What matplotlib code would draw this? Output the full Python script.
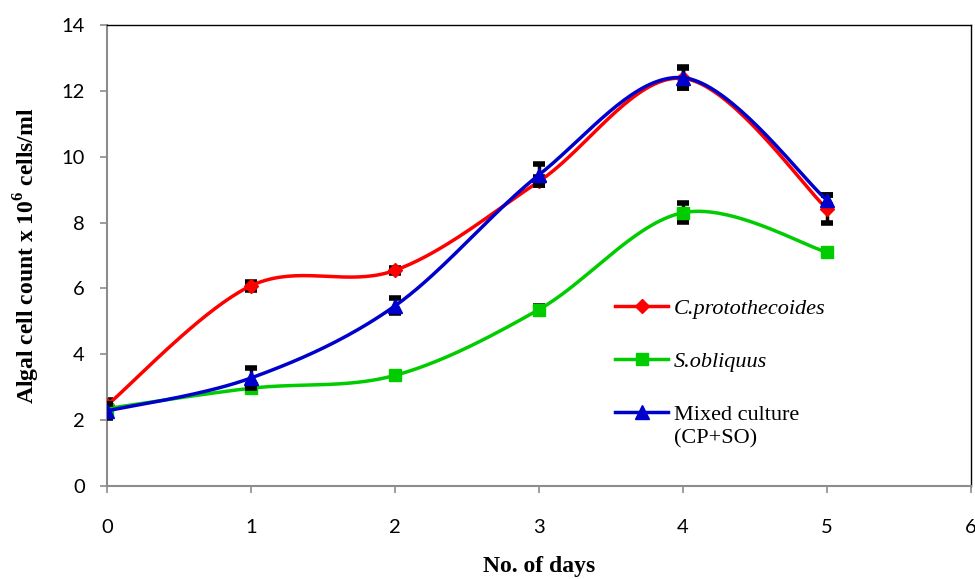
import numpy as np
import matplotlib
matplotlib.use("Agg")
import matplotlib.pyplot as plt
from matplotlib.transforms import offset_copy

plt.rcParams['mathtext.fontset'] = 'custom'
plt.rcParams['mathtext.rm'] = 'Liberation Serif'
plt.rcParams['mathtext.bf'] = 'Liberation Serif:bold'

# data
days = [0, 1, 2, 3, 4, 5]
cp = [2.45, 6.08, 6.55, 9.25, 12.38, 8.42]
cp_err = [0.15, 0.12, 0.08, 0.12, 0.30, 0.42]
so = [2.35, 2.97, 3.36, 5.36, 8.30, 7.10]
so_err = [0.15, 0.08, 0.08, 0.10, 0.28, 0.08]
mix = [2.28, 3.28, 5.47, 9.45, 12.40, 8.68]
mix_err = [0.22, 0.30, 0.23, 0.32, 0.32, 0.15]

labels = ['C.protothecoides', 'S.obliquus', 'Mixed culture']
colors = ['#ff0000', '#00cc00', '#0000cc']
markers = ['D', 's', '^']
msizes = [7, 9, 10]


def smooth(x, y, n=40):
    # excel-like smoothed line (catmull-rom bezier)
    x = np.asarray(x, float)
    y = np.asarray(y, float)
    px = np.concatenate([[x[0]], x, [x[-1]]])
    py = np.concatenate([[y[0]], y, [y[-1]]])
    xs, ys = [], []
    t = np.linspace(0, 1, n)
    for i in range(1, len(px) - 2):
        p0 = np.array([px[i], py[i]])
        p3 = np.array([px[i + 1], py[i + 1]])
        c1 = p0 + (np.array([px[i + 1], py[i + 1]]) - np.array([px[i - 1], py[i - 1]])) / 6
        c2 = p3 - (np.array([px[i + 2], py[i + 2]]) - np.array([px[i], py[i]])) / 6
        b = ((1 - t) ** 3)[:, None] * p0 + (3 * (1 - t) ** 2 * t)[:, None] * c1 \
            + (3 * (1 - t) * t ** 2)[:, None] * c2 + (t ** 3)[:, None] * p3
        xs.extend(b[:, 0])
        ys.extend(b[:, 1])
    return xs, ys


fig = plt.figure(figsize=(9.75, 5.79), dpi=100)
ax = fig.add_axes([0.1097, 0.1606, 0.8862, 0.7962])

series = [(cp, cp_err), (so, so_err), (mix, mix_err)]
for i, (vals, errs) in enumerate(series):
    ax.errorbar(days, vals, yerr=errs, fmt='none', ecolor='black',
                elinewidth=2.5, capsize=4.5, capthick=4, zorder=2 + i * 2)
    sx, sy = smooth(days, vals)
    ax.plot(sx, sy, color=colors[i], lw=2.5, zorder=3 + i * 2)
    ax.plot(days, vals, linestyle='none', marker=markers[i], ms=msizes[i],
            color=colors[i], zorder=3 + i * 2)
    # legend proxy
    ax.plot([], [], color=colors[i], lw=2.5, marker=markers[i],
            ms=msizes[i], label=labels[i])

ax.set_xlim(0, 6)
ax.set_ylim(0, 14)
ax.set_xticks(range(0, 7))
ax.set_yticks(range(0, 15, 2))

for s in ['left', 'bottom']:
    ax.spines[s].set_color('#8c8c8c')
    ax.spines[s].set_linewidth(1.5)
for s in ['top', 'right']:
    ax.spines[s].set_color('black')
    ax.spines[s].set_linewidth(1)

ax.tick_params(axis='both', color='#8c8c8c', width=1.2, length=5,
               labelsize=14.5)
ax.tick_params(axis='x', pad=19)
ax.tick_params(axis='y', pad=11)
for lab in ax.get_xticklabels() + ax.get_yticklabels():
    lab.set_family('Lato')

ax.set_xlabel('No. of days', fontsize=17, fontweight='bold',
              family='Liberation Serif', labelpad=14)
ax.set_ylabel(r'Algal cell count x 10$^{\mathbf{6}}$ cells/ml', fontsize=17,
              fontweight='bold', family='Liberation Serif', labelpad=14)

leg = ax.legend(loc='upper left', bbox_to_anchor=(0.565, 0.45), frameon=False,
                prop={'family': 'Liberation Serif', 'size': 16},
                handlelength=2.4, handletextpad=0.25, labelspacing=1.45)
for j, t in enumerate(leg.get_texts()):
    if j < 2:
        t.set_style('italic')

# second line of the mixed culture entry, under its label
fig.canvas.draw()
last = leg.get_texts()[2]
bb = last.get_window_extent()
x0, y0 = ax.transAxes.inverted().transform((bb.x0, bb.y0))
ax.text(x0, y0, '(CP+SO)', transform=offset_copy(ax.transAxes, fig=fig, y=-3, units='points'),
        ha='left', va='top', family='Liberation Serif', fontsize=16)

fig.savefig('out.png', dpi=100)
